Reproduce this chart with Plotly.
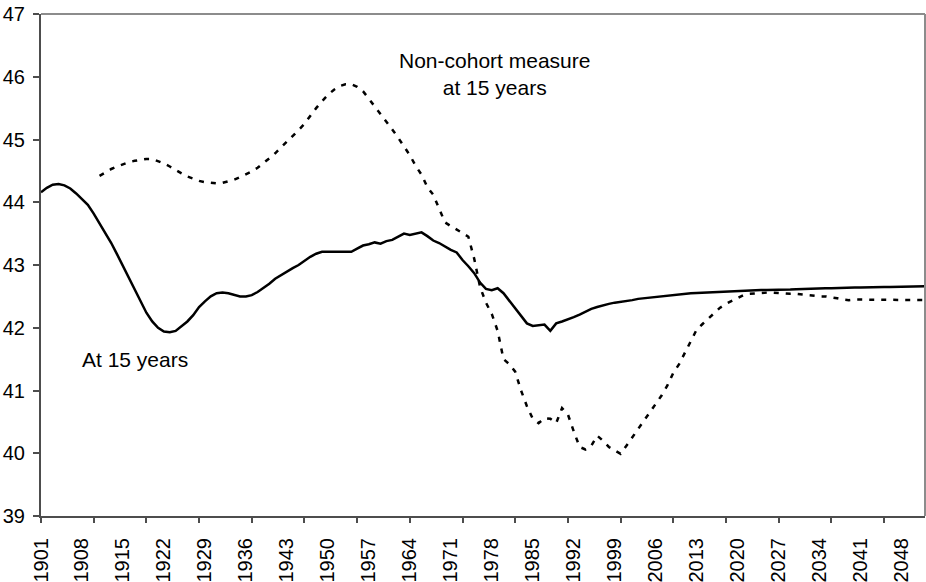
import plotly.graph_objects as go

# Years on the category axis, 1901-2052
years = list(range(1901, 2053))

# Age at 15 years (cohort), solid line
at_15 = [
    44.16, 44.23, 44.28, 44.29, 44.27, 44.22, 44.14, 44.05, 43.96, 43.82,  # 1901-1910
    43.67, 43.52, 43.35, 43.17, 42.98, 42.81, 42.62, 42.42, 42.24, 42.10,  # 1911-1920
    42.00, 41.94, 41.93, 41.95, 42.02, 42.10, 42.20, 42.33, 42.42, 42.50,  # 1921-1930
    42.55, 42.56, 42.55, 42.52, 42.50, 42.50, 42.52, 42.57, 42.63, 42.70,  # 1931-1940
    42.78, 42.84, 42.90, 42.95, 43.00, 43.07, 43.13, 43.18, 43.21, 43.21,  # 1941-1950
    43.21, 43.21, 43.20, 43.21, 43.26, 43.31, 43.33, 43.36, 43.34, 43.38,  # 1951-1960
    43.40, 43.45, 43.50, 43.48, 43.50, 43.52, 43.46, 43.39, 43.35, 43.29,  # 1961-1970
    43.24, 43.20, 43.08, 42.98, 42.87, 42.72, 42.62, 42.60, 42.63, 42.55,  # 1971-1980
    42.43, 42.30, 42.18, 42.07, 42.03, 42.04, 42.05, 41.95, 42.07, 42.10,  # 1981-1990
    42.13, 42.17, 42.21, 42.26, 42.30, 42.33, 42.36, 42.38, 42.40, 42.41,  # 1991-2000
    42.43, 42.44, 42.46, 42.47, 42.49, 42.50, 42.51, 42.52, 42.53, 42.54,  # 2001-2010
    42.545, 42.55, 42.555, 42.56, 42.565, 42.57, 42.57, 42.575, 42.58, 42.585,  # 2011-2020
    42.59, 42.59, 42.595, 42.60, 42.60, 42.60, 42.605, 42.61, 42.61, 42.615,  # 2021-2030
    42.62, 42.62, 42.625, 42.63, 42.63, 42.63, 42.635, 42.64, 42.64, 42.64,  # 2031-2040
    42.64, 42.645, 42.645, 42.65, 42.65, 42.65, 42.65, 42.655, 42.655, 42.66,  # 2041-2050
    42.66, 42.66,  # 2051-2052
]

# Non-cohort measure at 15 years, dotted line (starts 1911)
non_cohort = [None] * 10 + [
    44.42, 44.48, 44.53, 44.57, 44.61, 44.64, 44.66, 44.68, 44.69, 44.69,  # 1911-1920
    44.66, 44.62, 44.57, 44.51, 44.46, 44.41, 44.37, 44.34, 44.32, 44.31,  # 1921-1930
    44.30, 44.31, 44.33, 44.36, 44.40, 44.44, 44.49, 44.55, 44.62, 44.70,  # 1931-1940
    44.78, 44.87, 44.97, 45.06, 45.15, 45.25, 45.38, 45.50, 45.61, 45.71,  # 1941-1950
    45.79, 45.85, 45.88, 45.88, 45.84, 45.77, 45.65, 45.53, 45.40, 45.29,  # 1951-1960
    45.16, 45.03, 44.89, 44.75, 44.58, 44.44, 44.24, 44.12, 43.90, 43.68,  # 1961-1970
    43.62, 43.57, 43.51, 43.45, 43.10, 42.65, 42.40, 42.22, 41.95, 41.50,  # 1971-1980
    41.42, 41.30, 41.00, 40.75, 40.55, 40.48, 40.56, 40.55, 40.48, 40.72,  # 1981-1990
    40.62, 40.35, 40.10, 40.06, 40.12, 40.28, 40.20, 40.10, 40.04, 39.99,  # 1991-2000
    40.12, 40.25, 40.40, 40.52, 40.65, 40.78, 40.92, 41.08, 41.28, 41.42,  # 2001-2010
    41.60, 41.78, 41.97, 42.06, 42.15, 42.24, 42.32, 42.38, 42.43, 42.48,  # 2011-2020
    42.52, 42.54, 42.55, 42.56, 42.56, 42.56, 42.55, 42.55, 42.54, 42.54,  # 2021-2030
    42.53, 42.52, 42.50, 42.50, 42.50, 42.49, 42.47, 42.45, 42.44, 42.45,  # 2031-2040
    42.45, 42.45, 42.44, 42.44, 42.44, 42.44, 42.44, 42.44, 42.44, 42.44,  # 2041-2050
    42.44, 42.44,  # 2051-2052
]

label_years = list(range(1901, 2053, 7))   # tick labels every 7 years
tick_years = list(range(1901, 2053, 9))    # tick marks every 9 years
y_ticks = list(range(39, 48))

FONT = "Liberation Sans, Arial, sans-serif"
AXIS_COLOR = "#4d4d4d"
BORDER_COLOR = "#8c8c8c"

fig = go.Figure()
fig.add_trace(go.Scatter(x=years, y=non_cohort, mode="lines", connectgaps=False,
                         line=dict(color="black", width=2.5, dash="5px,7px"),
                         showlegend=False))
fig.add_trace(go.Scatter(x=years, y=at_15, mode="lines",
                         line=dict(color="black", width=2.5),
                         showlegend=False))
# empty trace so the tick-mark axis gets drawn
fig.add_trace(go.Scatter(x=[], y=[], xaxis="x2", showlegend=False, hoverinfo="skip"))

fig.update_layout(
    width=926, height=582,
    paper_bgcolor="white", plot_bgcolor="white",
    margin=dict(l=41, r=1, t=14, b=66),
    font=dict(family=FONT, color="black"),
    xaxis=dict(range=[1901, 2052], tickvals=label_years, ticktext=[str(y) for y in label_years],
               tickangle=-90, ticks="", ticklabelstandoff=12, showgrid=False, zeroline=False,
               automargin=False, showline=True, linecolor=AXIS_COLOR, linewidth=2,
               tickfont=dict(size=20, family=FONT, color="black")),
    xaxis2=dict(overlaying="x", anchor="y", side="bottom", range=[1901, 2052],
                tickvals=tick_years, ticks="outside", ticklen=6, tickwidth=1.5,
                tickcolor=AXIS_COLOR, showticklabels=False, showgrid=False,
                zeroline=False, showline=False, automargin=False),
    yaxis=dict(range=[39, 47], tickvals=y_ticks, ticks="outside", ticklen=6,
               tickwidth=1.5, tickcolor=AXIS_COLOR, ticklabelstandoff=4,
               showgrid=False, zeroline=False,
               showline=True, linecolor=AXIS_COLOR, linewidth=2, automargin=False,
               tickfont=dict(size=20, family=FONT, color="black")),
    shapes=[
        dict(type="line", xref="paper", yref="paper", x0=0, x1=1, y0=1, y1=1,
             line=dict(color=BORDER_COLOR, width=2)),
        dict(type="line", xref="paper", yref="paper", x0=1, x1=1, y0=0, y1=1,
             line=dict(color=BORDER_COLOR, width=2)),
    ],
    annotations=[
        dict(x=1978.4, y=46.05, xref="x", yref="y", showarrow=False,
             text="Non-cohort measure<br>at 15 years", align="center",
             font=dict(size=21, family=FONT, color="black")),
        dict(x=1917.0, y=41.49, xref="x", yref="y", showarrow=False,
             text="At 15 years", font=dict(size=21, family=FONT, color="black")),
    ],
)

# drop the default page margin so the figure sits at the window's top-left corner
fig.write_html("out.html", config={"displayModeBar": False},
               post_script="document.body.style.margin='0';")
